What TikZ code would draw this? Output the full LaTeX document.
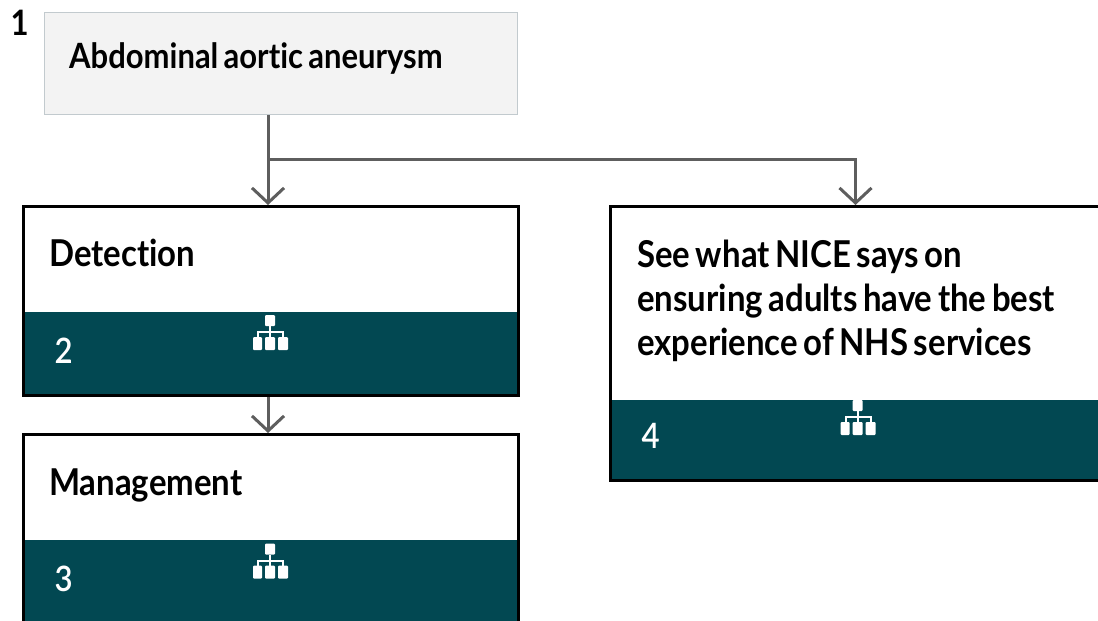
\documentclass[tikz,border=0pt]{standalone}
\usepackage{fontspec}
\setmainfont{Lato}[FakeStretch=0.89,WordSpace=0.7,Ligatures=NoCommon]
\newfontfamily\numberfont{Lato}[UprightFont=* Semibold,FakeStretch=0.89]
\usepackage{xcolor}
\usetikzlibrary{arrows.meta}
\definecolor{nicegrey}{HTML}{F3F3F3}
\definecolor{niceedge}{HTML}{C2CACE}
\definecolor{niceteal}{HTML}{024852}
\definecolor{wiregrey}{HTML}{5E5E5E}
\tikzstyle{block} = [rectangle, draw=black, line width=3pt, anchor=north west, inner sep=0pt]
\tikzstyle{topblock} = [rectangle, draw=niceedge, line width=1pt, fill=nicegrey, anchor=north west, inner sep=0pt]
\tikzstyle{footer} = [rectangle, fill=niceteal, anchor=north west, inner sep=0pt]
\tikzstyle{title} = [anchor=base west, inner sep=0pt, font=\fontsize{37}{44}\selectfont\bfseries]
\tikzstyle{number} = [anchor=base west, inner sep=0pt, font=\fontsize{35}{40}\selectfont\numberfont, text=white]
\tikzstyle{line} = [draw=wiregrey, line width=3pt]
\tikzstyle{arrowline} = [line, -{Straight Barb[length=15pt,width=32pt,line width=3pt]}]
\tikzset{orgicon/.pic={
  \fill[white, rounded corners=1pt] (-5,0) rectangle (5,11);
  \fill[white, rounded corners=1pt] (-17,22) rectangle (-8,35);
  \fill[white, rounded corners=1pt] (-5,22) rectangle (5,35);
  \fill[white, rounded corners=1pt] (8,22) rectangle (18,35);
  \draw[white, line width=2pt] (0,11) -- (0,22) (-12,22) -- (-12,17) -- (13,17) -- (13,22);
}}

\begin{document}
\begin{tikzpicture}[x=1pt,y=-1pt]
\useasboundingbox (0,0) rectangle (1098,621);
\clip (0,0) rectangle (1098,621);
\node [number, text=black, font=\fontsize{35}{40}\selectfont\bfseries] (one) at (10.5,35) {1};
\node [topblock, minimum width=473pt, minimum height=102pt] (aneurysm) at (44,12) {};
\node [title, font=\fontsize{34.8}{44}\selectfont\bfseries] (aneurysmtext) at (69,68) {Abdominal aortic aneurysm};
% boxes
\node [footer, minimum width=495pt, minimum height=84pt] (detectionfoot) at (23,312) {};
\node [block, minimum width=494.5pt, minimum height=189pt] (detection) at (22,205) {};
\node [title] (detectiontext) at (49,266) {Detection};
\node [number] (two) at (54.5,363) {2};
\node [footer, minimum width=495pt, minimum height=90pt] (managementfoot) at (23,540) {};
\node [block, minimum width=494.5pt, minimum height=210pt] (management) at (22,433) {};
\node [title] (managementtext) at (49,495) {Management};
\node [number] (three) at (54.5,591) {3};
\node [footer, minimum width=490pt, minimum height=81pt] (nicefoot) at (610,400) {};
\node [block, minimum width=490pt, minimum height=274pt] (nice) at (609,205) {};
\node [title, anchor=north west, align=left, text width=470pt] (nicetext) at (637,240) {\spaceskip=0pt\relax See what NICE says on\\ensuring adults have the best\\experience of NHS services};
\node [number] (four) at (641.5,448) {4};
\pic at (270,315) {orgicon};
\pic at (270,543.5) {orgicon};
\pic at (857.5,400) {orgicon};
% connectors
\coordinate (branch) at (268,159);
\path [arrowline] (branch |- aneurysm.south) -- (branch |- detection.north);
\path [arrowline] (branch) -| (nice.north);
\path [arrowline] (branch |- detection.south) -- (branch |- management.north);
\end{tikzpicture}
\end{document}
